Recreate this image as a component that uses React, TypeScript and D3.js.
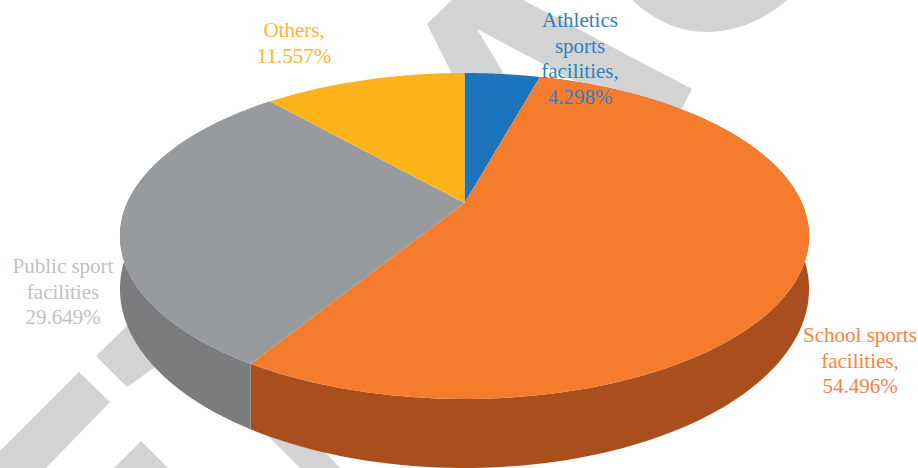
import React from "react";
import * as d3 from "d3";

const categories = [
  "Athletics sports facilities",
  "School sports facilities",
  "Public sport facilities",
  "Others",
];
const shares = [4.298, 54.496, 29.649, 11.557];
const topColors = ["#1c75bc", "#f57c2c", "#989b9d", "#feb31a"];
const wallColors = ["#155a90", "#a94f1d", "#7b7c7e", "#c08a14"];
const labelColors = ["#2f7fc1", "#f6853f", "#bfc1c3", "#fdb62f"];
const labelLines = [
  ["Athletics", "sports", "facilities,", "4.298%"],
  ["School sports", "facilities,", "54.496%"],
  ["Public sport", "facilities", "29.649%"],
  ["Others,", "11.557%"],
];
const labelAnchors = [
  [580, 27],
  [860, 342],
  [63, 273],
  [294, 37],
];
const lineHeight = 25.5;

// Backdrop shapes sitting behind the pie.
const backdrop = [
  "M452,0 L427,24 L453,76 L505,76 L477,29 L670,131 L692,89 L523,0 Z",
  "M632,0 C655,21 680,32 707,32 C735,32 765,20 787,0 Z",
  "M96,356 L128,325 L165,360 L127,387 Z",
  "M79,372 L110,402 L46,468 L0,468 L0,451 Z",
  "M141,441 L114,468 L168,468 Z",
  "M268,436 L300,468 L340,468 L310,436 Z",
];

// Perspective projection of the unit disc onto the page; the lower rim
// uses its own centre and vertical radius.
const cx = 464.5;
const k = 0.2025;
const rx = 337.4;
const topRim = { cy: 203, ry: 156.3 };
const bottomRim = { cy: 252.7, ry: 171.7 };

const project = (angle: number, rim: { cy: number; ry: number }): [number, number] => {
  const u = Math.sin(angle);
  const v = -Math.cos(angle);
  const w = 1 - k * v;
  return [cx + (rx * u) / w, rim.cy + (rim.ry * v) / w];
};

const sampleArc = (start: number, end: number, rim: { cy: number; ry: number }) =>
  d3.range(0, 121).map((i) => project(start + ((end - start) * i) / 120, rim));

export default function App() {
  const pieLayout = d3.pie<number>().sort(null).value((d) => d);
  const slices = pieLayout(shares);
  const line = d3.line();

  return (
    <svg
      width={918}
      height={468}
      viewBox="0 0 918 468"
      style={{ position: "absolute", left: 0, top: 0, display: "block" }}
    >
      <rect width={918} height={468} fill="#ffffff" />
      {backdrop.map((d, i) => (
        <path key={i} d={d} fill="#d3d3d3" />
      ))}

      {/* Side wall of the front-facing slices */}
      {slices.map((s, i) =>
        i === 1 || i === 2 ? (
          <path
            key={categories[i]}
            d={
              line([
                ...sampleArc(s.startAngle, s.endAngle, topRim),
                ...sampleArc(s.startAngle, s.endAngle, bottomRim).reverse(),
              ]) + "Z"
            }
            fill={wallColors[i]}
          />
        ) : null
      )}

      {/* Top face */}
      {slices.map((s, i) => (
        <path
          key={categories[i]}
          d={line([[cx, topRim.cy], ...sampleArc(s.startAngle, s.endAngle, topRim)]) + "Z"}
          fill={topColors[i]}
        />
      ))}

      {/* Labels */}
      {labelLines.map((lines, i) => (
        <text
          key={categories[i]}
          textAnchor="middle"
          fontFamily='"Liberation Serif", serif'
          fontSize={21}
          fill={labelColors[i]}
        >
          {lines.map((t, j) => (
            <tspan key={j} x={labelAnchors[i][0]} y={labelAnchors[i][1] + j * lineHeight}>
              {t}
            </tspan>
          ))}
        </text>
      ))}
    </svg>
  );
}
